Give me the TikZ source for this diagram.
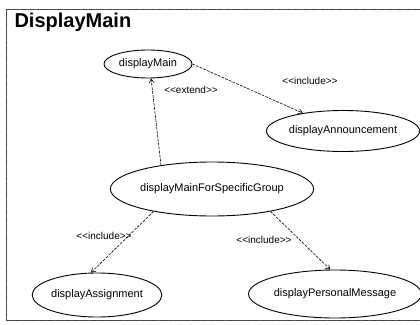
\documentclass[tikz,border=0pt]{standalone}
\usepackage{fontspec}
\setmainfont{Liberation Sans}
\usetikzlibrary{shapes.geometric,arrows.meta}
\newcommand\stereotype[1]{<\kern0pt<#1>\kern0pt>}
\tikzset{
	usecase/.style={ellipse,draw,line width=0.9pt,inner sep=0pt,font=\fontsize{11}{13}\selectfont},
	rel/.style={->,dash pattern=on 2.5pt off 1.5pt,line width=0.6pt},
	stereo/.style={font=\fontsize{10}{12}\selectfont}
}
\begin{document}
\begin{tikzpicture}[x=1pt,y=-1pt,>={Straight Barb[length=4pt,width=5pt]}, line join=round, line cap=round]
	\useasboundingbox (0,0) rectangle (420,324);
	% frame and title
	\draw[dash pattern=on 1pt off 0.7pt, line width=0.6pt, black!75] (420,9) -- (6,9) -- (6,320) -- (420,320);
	\node[anchor=west,font=\bfseries\fontsize{20}{24}\selectfont] (title) at (11,22) {DisplayMain};
	% use cases
	\node[usecase,minimum width=88pt,minimum height=28pt] (main) at (148,64) {displayMain};
	\node[usecase,minimum width=135pt,minimum height=41pt] (ann) at (343,131) {displayAnnouncement};
	\node[usecase,minimum width=170pt,minimum height=54pt] (group) at (212,189) {displayMainForSpecificGroup};
	\node[usecase,minimum width=110pt,minimum height=44pt] (assign) at (97,295) {displayAssignment};
	\node[usecase,minimum width=155pt,minimum height=48pt] (pers) at (335,294) {displayPersonalMessage};
	% relations
	\draw[rel] (group.155) -- (main.282);
	\draw[rel] (main.east) -- (ann.156);
	\draw[rel] (group.201) -- (assign.105);
	\draw[rel] (group.339) -- (pers.101);
	\node[stereo] (lext) at (191,90) {\stereotype{extend}};
	\node[stereo] (lann) at (310,81) {\stereotype{include}};
	\node[stereo] (lassign) at (104,236) {\stereotype{include}};
	\node[stereo] (lpers) at (264,240) {\stereotype{include}};
\end{tikzpicture}
\end{document}
